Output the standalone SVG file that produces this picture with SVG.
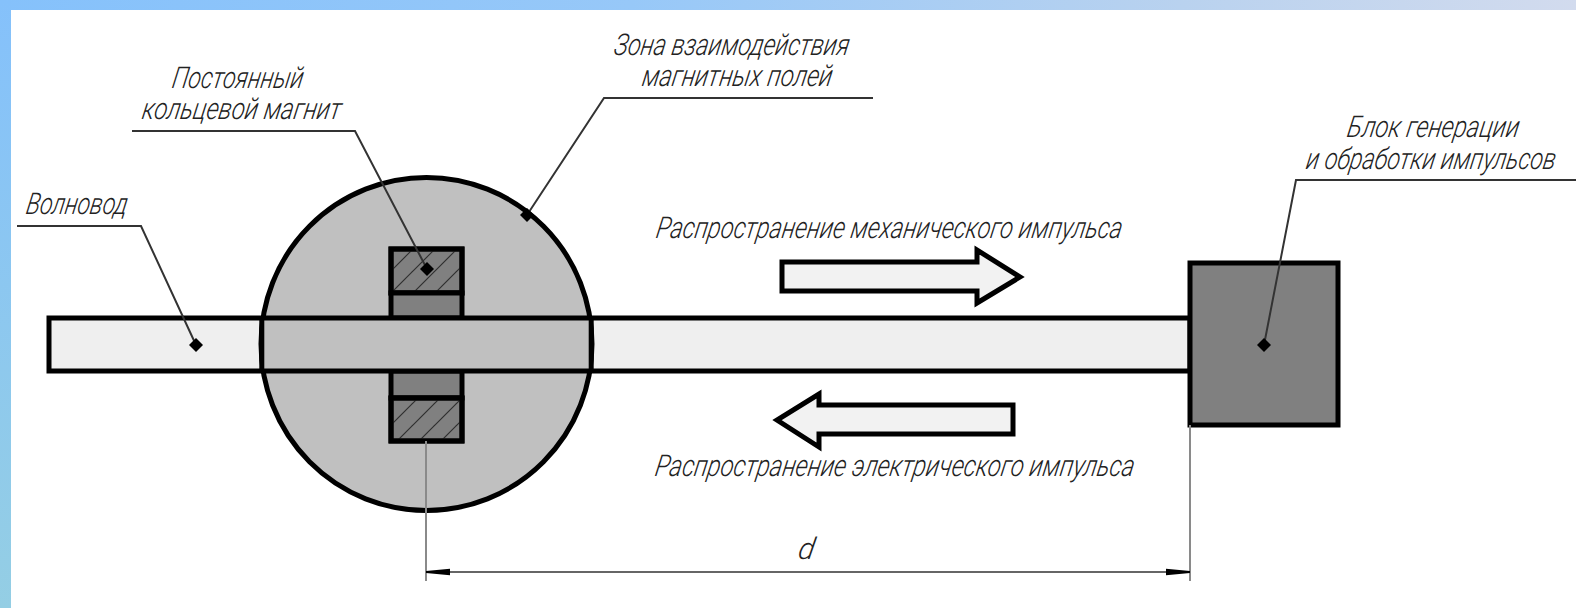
<svg xmlns="http://www.w3.org/2000/svg" width="1576" height="608" viewBox="0 0 1576 608">
<defs>
<linearGradient id="topBand" x1="0" y1="0" x2="1" y2="0"><stop offset="0" stop-color="#85c1fb"/><stop offset="0.4" stop-color="#97c8f8"/><stop offset="0.75" stop-color="#b9d2ef"/><stop offset="1" stop-color="#d2dbee"/></linearGradient>
<linearGradient id="leftBand" x1="0" y1="0" x2="0" y2="1"><stop offset="0" stop-color="#85c1fb"/><stop offset="1" stop-color="#94cee4"/></linearGradient>
<pattern id="hatch" patternUnits="userSpaceOnUse" width="22" height="22" patternTransform="translate(391 249)"><path d="M-2 24L24 -2" stroke="#2e2e2e" stroke-width="1.2"/><path d="M-2 2L2 -2M20 24L24 20" stroke="#2e2e2e" stroke-width="1.2"/></pattern>
<marker id="dimHead" markerUnits="userSpaceOnUse" markerWidth="24" markerHeight="8" refX="24" refY="4" orient="auto-start-reverse"><path d="M0 0.8L24 3V5L0 7.2Z" fill="#000"/></marker>
</defs>
<style>
.lbl{font-family:Roboto,"Liberation Sans",sans-serif;font-style:italic;font-weight:300;font-size:30px;fill:#222;}
.part{stroke:#000;stroke-width:5;stroke-linejoin:miter;}
.leader{fill:none;stroke:#333;stroke-width:2;}
.dim{fill:none;stroke:#666;stroke-width:2;}
.ext{fill:none;stroke:#8a8a8a;stroke-width:2;}
.dot{fill:#000;}
</style>
<rect width="1576" height="608" fill="#fff"/>
<rect width="1576" height="10" fill="url(#topBand)"/>
<rect y="0" width="11" height="608" fill="url(#leftBand)"/>

<g id="waveguide"><rect class="part" x="49" y="318" width="1141" height="53" fill="#efefef"/></g>
<g id="interaction-zone"><ellipse class="part" cx="426.5" cy="344" rx="165.5" ry="166.5" fill="#c0c0c0"/></g>
<g id="ring-magnet">
<rect class="part" x="391" y="249" width="71" height="44" fill="#808080"/>
<rect x="391" y="249" width="71" height="44" fill="url(#hatch)" stroke="#000" stroke-width="5"/>
<rect class="part" x="391" y="293" width="71" height="25" fill="#808080"/>
<rect class="part" x="391" y="371" width="71" height="27" fill="#808080"/>
<rect class="part" x="391" y="398" width="71" height="43" fill="#808080"/>
<rect x="391" y="398" width="71" height="43" fill="url(#hatch)" stroke="#000" stroke-width="5"/>
</g>
<g id="waveguide-overlap"><rect x="262" y="320" width="329" height="49" fill="#c0c0c0"/><path d="M261 318H592M261 371H592" stroke="#000" stroke-width="5"/><path d="M261.8 320V369M591.2 320V369" stroke="#000" stroke-width="5"/></g>
<g id="generator-block"><rect class="part" x="1190" y="263" width="148" height="162" fill="#808080"/></g>
<g id="mech-arrow"><path class="part" fill="#f2f2f2" d="M782 262H977V250L1020 277L977 303V291H782Z"/></g>
<g id="elec-arrow"><path class="part" fill="#f2f2f2" d="M1013 405H819V394L777 420L819 447V434H1013Z"/></g>

<g id="connectors">
<path class="leader" d="M132 131H355L427 269"/>
<path class="leader" d="M873 98H604L527 215"/>
<path class="leader" d="M17 226H141L196 345"/>
<path class="leader" d="M1576 180H1296L1264 345"/>
<path class="ext" d="M426 441V581M1190 425V581"/>
<path class="dim" d="M426 572H1190" marker-start="url(#dimHead)" marker-end="url(#dimHead)"/>
<path class="dot" d="M427 262L434 269L427 276L420 269Z"/>
<path class="dot" d="M527 208L534 215L527 222L520 215Z"/>
<path class="dot" d="M196 338L203 345L196 352L189 345Z"/>
<path class="dot" d="M1264 338L1271 345L1264 352L1257 345Z"/>
</g>

<g id="labels">
<text class="lbl" transform="translate(613 55) skewX(-10)" textLength="235" lengthAdjust="spacingAndGlyphs">Зона взаимодействия</text>
<text class="lbl" transform="translate(641 86) skewX(-10)" textLength="190" lengthAdjust="spacingAndGlyphs">магнитных полей</text>
<text class="lbl" transform="translate(171 88) skewX(-10)" textLength="131" lengthAdjust="spacingAndGlyphs">Постоянный</text>
<text class="lbl" transform="translate(141 119) skewX(-10)" textLength="199" lengthAdjust="spacingAndGlyphs">кольцевой магнит</text>
<text class="lbl" transform="translate(25 214) skewX(-10)" textLength="101" lengthAdjust="spacingAndGlyphs">Волновод</text>
<text class="lbl" transform="translate(1346 137) skewX(-10)" textLength="172" lengthAdjust="spacingAndGlyphs">Блок генерации</text>
<text class="lbl" transform="translate(1305 169) skewX(-10) scale(0.8 1)" textLength="312" lengthAdjust="spacingAndGlyphs">и обработки импульсов</text>
<text class="lbl" transform="translate(655 238) skewX(-10)" textLength="466" lengthAdjust="spacingAndGlyphs">Распространение механического импульса</text>
<text class="lbl" transform="translate(654 476) skewX(-10)" textLength="479" lengthAdjust="spacingAndGlyphs">Распространение электрического импульса</text>
<text class="lbl" transform="translate(797 559) skewX(-10)">d</text>
</g>
</svg>
